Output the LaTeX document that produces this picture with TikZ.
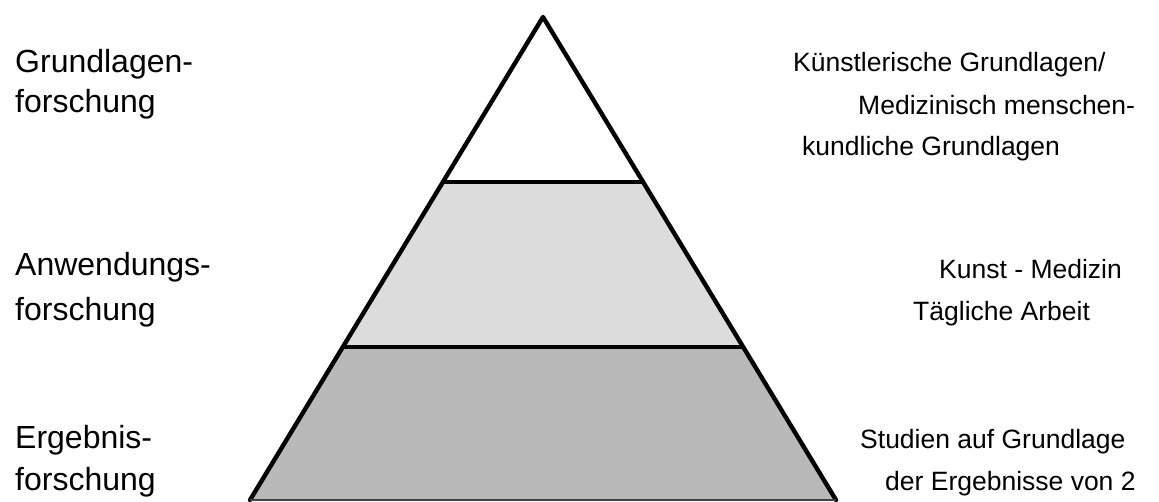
\documentclass[tikz,border=0pt]{standalone}
\usepackage{fontspec}
\setmainfont{Liberation Sans}
\usetikzlibrary{calc}
\definecolor{midgray}{HTML}{DCDCDC}
\definecolor{lowgray}{HTML}{B9B9B9}
\begin{document}
\begin{tikzpicture}[x=1pt,y=-1pt,
  edge/.style={line width=4.4pt,line join=round,line cap=round},
  leftlbl/.style={anchor=base west,inner sep=0pt,font=\fontsize{32}{32}\selectfont},
  rightlbl/.style={anchor=base west,inner sep=0pt,font=\fontsize{26.5}{26.5}\selectfont}]
\useasboundingbox (0,0) rectangle (1159,501);
\fill[white] (0,0) rectangle (1159,501);
% pyramid corners
\coordinate (apex) at (543,17);
\coordinate (bl) at (250,500);
\coordinate (br) at (836,500);
\coordinate (l1) at ($(apex)!0.341!(bl)$);
\coordinate (r1) at ($(apex)!0.341!(br)$);
\coordinate (l2) at ($(apex)!0.683!(bl)$);
\coordinate (r2) at ($(apex)!0.683!(br)$);
\fill[lowgray] (l2) -- (r2) -- (br) -- (bl) -- cycle;
\fill[midgray] (l1) -- (r1) -- (r2) -- (l2) -- cycle;
\draw[edge] (bl) -- (apex) -- (br);
\draw[edge,line cap=butt,line width=4pt] (l1) -- (r1);
\draw[edge,line cap=butt,line width=4pt] (l2) -- (r2);
\draw[line width=2pt,draw=black!75] (bl) -- (br);
% left labels
\node[leftlbl] (g1) at (15,72) {Grundlagen-};
\node[leftlbl] (g2) at (15,112) {forschung};
\node[leftlbl] (a1) at (15,275) {Anwendungs-};
\node[leftlbl] (a2) at (15,320) {forschung};
\node[leftlbl] (e1) at (15,448) {Ergebnis-};
\node[leftlbl] (e2) at (15,490) {forschung};
% right labels
\node[rightlbl] (k1) at (793,71) {Künstlerische Grundlagen/};
\node[rightlbl] (k2) at (858,114) {Medizinisch menschen-};
\node[rightlbl] (k3) at (802,155) {kundliche Grundlagen};
\node[rightlbl] (m1) at (939,278) {Kunst - Medizin};
\node[rightlbl] (m2) at (913,320) {Tägliche Arbeit};
\node[rightlbl] (s1) at (860,448) {Studien auf Grundlage};
\node[rightlbl] (s2) at (885,490) {der Ergebnisse von 2};
\end{tikzpicture}
\end{document}
